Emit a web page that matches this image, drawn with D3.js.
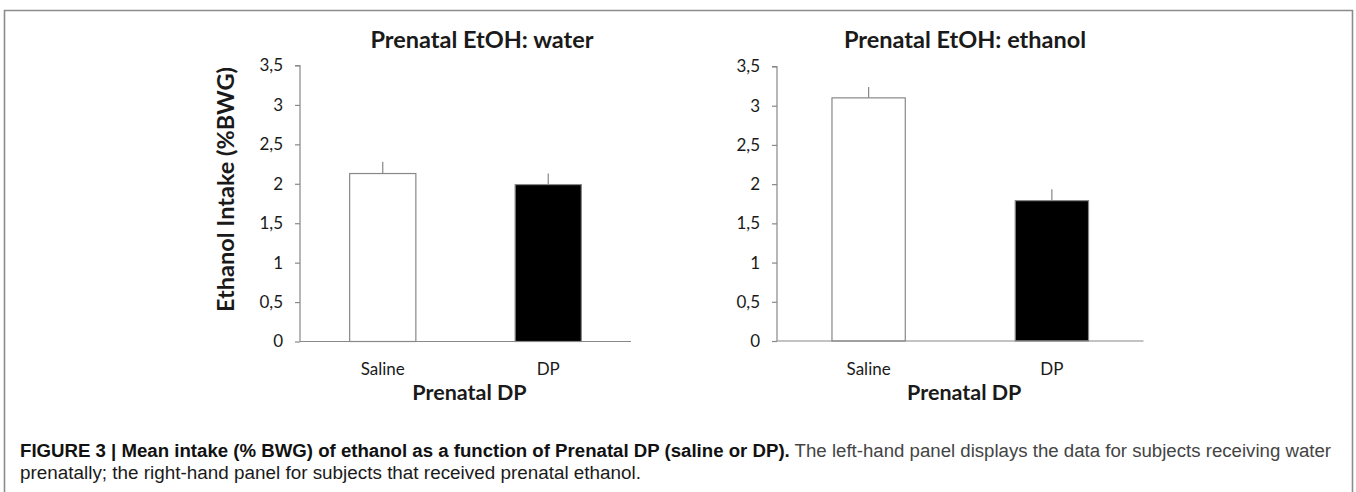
<!DOCTYPE html>
<html>
<head>
<meta charset="utf-8">
<script src="https://cdn.jsdelivr.net/npm/d3@7"></script>
<style>
  body { margin: 0; background: #fff; }
  svg text { fill: #1a1a1a; }
</style>
</head>
<body>
<div id="chart"></div>
<script>
const svgWidth = 1356;
const svgHeight = 492;

// data
const categories = ["Saline", "DP"];
const waterMeans = [2.13, 1.99];
const waterErrors = [0.15, 0.14];
const ethanolMeans = [3.1, 1.79];
const ethanolErrors = [0.14, 0.145];
const barFills = ["#ffffff", "#000000"];
const yTicks = [0, 0.5, 1, 1.5, 2, 2.5, 3, 3.5];
const titles = ["Prenatal EtOH: water", "Prenatal EtOH: ethanol"];

const axisColor = "#888888";
const tickFont = "Lato, 'Open Sans', sans-serif";

const svg = d3.select("#chart")
    .append("svg")
    .attr("width", svgWidth)
    .attr("height", svgHeight);

// figure frame (open at the bottom)
svg.append("path")
    .attr("d", "M4.5,492 L4.5,10.5 L1352.5,10.5 L1352.5,492")
    .attr("fill", "none")
    .attr("stroke", "#8c8c8c")
    .attr("stroke-width", 1.6);

const panels = [
    {title: titles[0], means: waterMeans, errors: waterErrors,
     left: 300, right: 631, top: 65.5, bottom: 341.5, titleX: 482, yLabel: true},
    {title: titles[1], means: ethanolMeans, errors: ethanolErrors,
     left: 777, right: 1143.5, top: 66.5, bottom: 341, titleX: 965, yLabel: false}
];

panels.forEach(function(p) {
    const x = d3.scaleBand()
        .domain(categories)
        .range([p.left, p.right])
        .paddingInner(0.6)
        .paddingOuter(0.3);

    const y = d3.scaleLinear()
        .domain([0, 3.5])
        .range([p.bottom, p.top]);

    const g = svg.append("g");

    // y axis
    const yAxis = g.append("g")
        .attr("transform", `translate(${p.left}, 0)`)
        .call(d3.axisLeft(y)
            .tickValues(yTicks)
            .tickSize(5)
            .tickPadding(12)
            .tickFormat(d => String(d).replace(".", ",")));
    yAxis.select(".domain")
        .attr("d", `M-5,${y(3.5)}H0V${y(0)}`)
        .attr("stroke", axisColor)
        .attr("stroke-width", 1.2);
    yAxis.selectAll(".tick line").attr("stroke", axisColor).attr("stroke-width", 1.2);
    yAxis.selectAll(".tick text")
        .attr("font-family", tickFont)
        .attr("font-size", 17)
        .attr("fill", "#1a1a1a");

    // bars
    g.selectAll("rect.bar")
        .data(categories)
        .enter()
        .append("rect")
        .attr("class", "bar")
        .attr("x", d => x(d))
        .attr("y", (d, i) => y(p.means[i]))
        .attr("width", x.bandwidth())
        .attr("height", (d, i) => y(0) - y(p.means[i]))
        .attr("fill", (d, i) => barFills[i])
        .attr("stroke", axisColor)
        .attr("stroke-width", 1.2);

    // error bars (upper only)
    g.selectAll("line.err")
        .data(categories)
        .enter()
        .append("line")
        .attr("class", "err")
        .attr("x1", d => x(d) + x.bandwidth() / 2)
        .attr("x2", d => x(d) + x.bandwidth() / 2)
        .attr("y1", (d, i) => y(p.means[i]))
        .attr("y2", (d, i) => y(p.means[i] + p.errors[i]))
        .attr("stroke", axisColor)
        .attr("stroke-width", 1.2);

    // x axis line
    g.append("line")
        .attr("x1", p.left)
        .attr("x2", p.right)
        .attr("y1", y(0))
        .attr("y2", y(0))
        .attr("stroke", axisColor)
        .attr("stroke-width", 1.2);

    // category labels
    g.selectAll("text.cat")
        .data(categories)
        .enter()
        .append("text")
        .attr("class", "cat")
        .attr("x", d => x(d) + x.bandwidth() / 2)
        .attr("y", 375)
        .attr("text-anchor", "middle")
        .attr("font-family", tickFont)
        .attr("font-size", 17)
        .text(d => d);

    // x title
    g.append("text")
        .attr("x", (p.left + p.right) / 2 + 4)
        .attr("y", 400)
        .attr("text-anchor", "middle")
        .attr("font-family", tickFont)
        .attr("font-weight", "bold")
        .attr("font-size", 21.5)
        .text("Prenatal DP");

    // panel title
    g.append("text")
        .attr("x", p.titleX)
        .attr("y", 48)
        .attr("text-anchor", "middle")
        .attr("font-family", tickFont)
        .attr("font-weight", "bold")
        .attr("font-size", 23.5)
        .text(p.title);

    if (p.yLabel) {
        g.append("text")
            .attr("transform", `translate(234, ${(p.top + p.bottom) / 2 - 14}) rotate(-90)`)
            .attr("text-anchor", "middle")
            .attr("font-family", tickFont)
            .attr("font-weight", "bold")
            .attr("font-size", 23.5)
            .text("Ethanol Intake (%BWG)");
    }
});

// caption
const caption = svg.append("g")
    .attr("font-family", "'Liberation Sans', Arial, sans-serif")
    .attr("font-size", 18);

const line1 = caption.append("text")
    .attr("x", 20)
    .attr("y", 457)
    .attr("textLength", 1311)
    .attr("lengthAdjust", "spacingAndGlyphs");
line1.append("tspan")
    .attr("font-weight", "bold")
    .attr("fill", "#111")
    .text("FIGURE 3 | Mean intake (% BWG) of ethanol as a function of Prenatal DP (saline or DP).");
line1.append("tspan")
    .attr("fill", "#444")
    .text(" The left-hand panel displays the data for subjects receiving water");

caption.append("text")
    .attr("x", 20)
    .attr("y", 479)
    .attr("fill", "#444")
    .attr("textLength", 621)
    .attr("lengthAdjust", "spacingAndGlyphs")
    .text("prenatally; the right-hand panel for subjects that received prenatal ethanol.");
</script>
</body>
</html>
